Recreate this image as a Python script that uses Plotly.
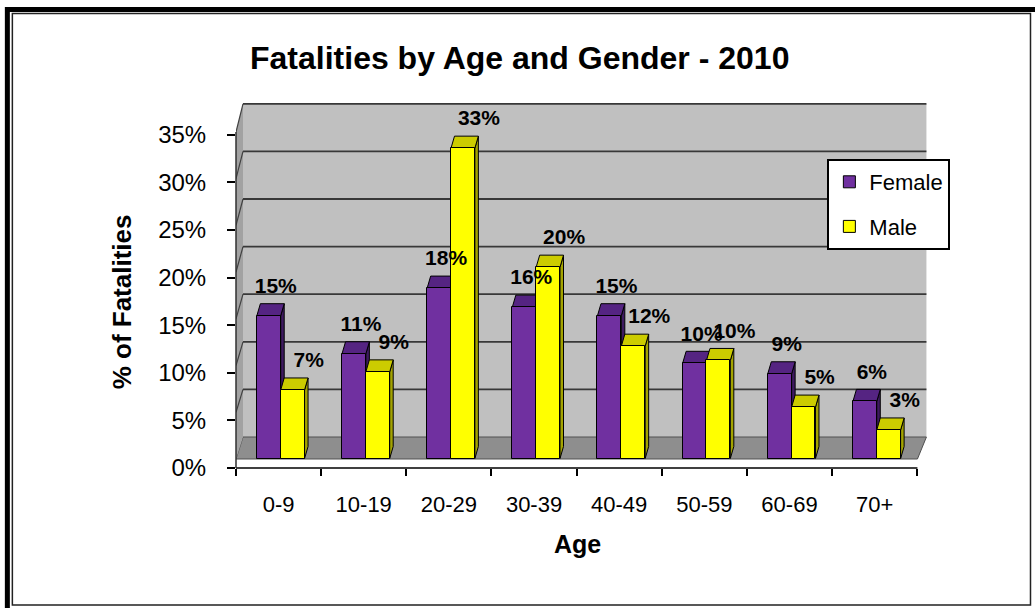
import plotly.graph_objects as go

# ---------------- data ----------------
categories = ["0-9", "10-19", "20-29", "30-39", "40-49", "50-59", "60-69", "70+"]
female = [15.0, 11.0, 17.9, 15.9, 15.0, 10.0, 8.9, 6.0]
male = [7.2, 9.1, 32.6, 20.1, 11.8, 10.3, 5.4, 3.0]
y_ticks = [0, 5, 10, 15, 20, 25, 30, 35]
y_tick_labels = [f"{v}%" for v in y_ticks]

# ---------------- geometry ----------------
W, H = 1035, 608
L, B, T = 236, 468, 100
PXU = 85.1            # px per category
PPU = 9.52            # px per percent
XR = [-0.5, 7.65]
YR = [0, (B - T) / PPU]
PW = (XR[1] - XR[0]) * PXU
PH = B - T
RM = W - L - PW
FONT = "Liberation Sans, Arial, sans-serif"


def xd(px):
    return XR[0] + (px - L) / PXU


def yd(py):
    return (B - py) / PPU


def xp(px):
    return (px - L) / PW


def yp(py):
    return (B - py) / PH


def path(pts):
    return "M " + " L ".join(f"{x},{y}" for x, y in pts) + " Z"


shapes = []
# 3D chart box: back wall, floor, side wall
BY = yd(437)                  # back-wall zero level
BXL, BXR = xd(243), xd(926)   # back wall left / right
FXL, FXR = xd(236), xd(917)   # front left / right
FY0, FYT = yd(459), yd(132)   # front floor edge, front top of side wall
top = y_ticks[-1]

shapes.append(dict(type="path", xref="x", yref="y", layer="below",
                   path=path([(BXL, BY), (BXR, BY), (BXR, BY + top), (BXL, BY + top)]),
                   fillcolor="#C0C0C0", line=dict(width=0)))
shapes.append(dict(type="path", xref="x", yref="y", layer="below",
                   path=path([(BXL, BY), (BXR, BY), (FXR, FY0), (FXL, FY0)]),
                   fillcolor="#8E8E8E", line=dict(color="#505050", width=1)))
shapes.append(dict(type="path", xref="x", yref="y", layer="below",
                   path=path([(FXL, FY0), (FXL, FYT), (BXL, BY + top), (BXL, BY)]),
                   fillcolor="#A2A2A2", line=dict(width=0)))
for t in y_ticks[1:]:
    shapes.append(dict(type="line", xref="x", yref="y", layer="below",
                       x0=BXL, x1=BXR, y0=BY + t, y1=BY + t,
                       line=dict(color="#383838", width=1.8)))
    fy = FY0 + t * (FYT - FY0) / top
    shapes.append(dict(type="line", xref="x", yref="y", layer="below",
                       x0=FXL, x1=BXL, y0=fy, y1=BY + t,
                       line=dict(color="#404040", width=1.2)))

# bars: 3D side/top faces (below the front faces drawn by Bar traces)
BASE = yd(458.5)
BW = 0.28
OFF_F, OFF_M = -0.255, 0.025
DX, DY = 3.5 / PXU, 12 / PPU
series = [
    ("Female", female, OFF_F, "#7030A0", "#552482", "#3E1A60"),
    ("Male", male, OFF_M, "#FFFF00", "#CCCC00", "#A3A300"),
]
for name, vals, off, front, topc, side in series:
    for i, v in enumerate(vals):
        xl = i + off
        xr = xl + BW
        yt = BASE + v
        shapes.append(dict(type="path", xref="x", yref="y", layer="below",
                           path=path([(xr, BASE), (xr, yt), (xr + DX, yt + DY), (xr + DX, BASE + DY)]),
                           fillcolor=side, line=dict(color="black", width=1)))
        shapes.append(dict(type="path", xref="x", yref="y", layer="below",
                           path=path([(xl, yt), (xr, yt), (xr + DX, yt + DY), (xl + DX, yt + DY)]),
                           fillcolor=topc, line=dict(color="black", width=1)))

# axis lines (paper coords, not clipped)
shapes.append(dict(type="line", xref="paper", yref="paper",
                   x0=0, x1=xp(917), y0=0, y1=0, line=dict(color="black", width=1.5)))
shapes.append(dict(type="line", xref="paper", yref="paper",
                   x0=0, x1=0, y0=0, y1=yp(132), line=dict(color="#303030", width=1.5)))

# outer double frame
shapes.append(dict(type="rect", xref="paper", yref="paper",
                   x0=xp(7.5), x1=xp(1060), y0=yp(9.5), y1=yp(640),
                   line=dict(color="black", width=5)))
shapes.append(dict(type="rect", xref="paper", yref="paper",
                   x0=xp(12.5), x1=xp(1030), y0=yp(13.5), y1=yp(605),
                   line=dict(color="#222222", width=1.5)))

fig = go.Figure()
for name, vals, off, front, topc, side in series:
    fig.add_trace(go.Bar(
        name=name, x=list(range(len(categories))), y=vals, base=BASE,
        offset=off, width=BW, legendgroup=name,
        marker=dict(color=front, line=dict(color="black", width=1)),
    ))

# data labels
LBL_DY = 28 / PPU
for (name, vals, off, *_), dxp in zip(series, [7, 16]):
    fig.add_trace(go.Scatter(
        x=[i + off + BW / 2 + dxp / PXU for i in range(len(vals))],
        y=[BASE + v + LBL_DY for v in vals],
        text=[f"{round(v)}%" for v in vals],
        mode="text", textposition="middle center", cliponaxis=False,
        textfont=dict(family=FONT, size=21, color="black", weight="bold"),
        showlegend=False, hoverinfo="skip",
    ))

annotations = [
    dict(text="Fatalities by Age and Gender - 2010", xref="paper", yref="paper",
         x=xp(519), y=yp(58), showarrow=False, xanchor="center", yanchor="middle",
         font=dict(family=FONT, size=32, color="black", weight="bold")),
    dict(text="% of Fatalities", xref="paper", yref="y", x=xp(122), y=17.5,
         textangle=-90, showarrow=False, xanchor="center", yanchor="middle",
         font=dict(family=FONT, size=26, color="black", weight="bold")),
    dict(text="Age", xref="paper", yref="paper", x=xp(577), y=yp(544),
         showarrow=False, xanchor="center", yanchor="middle",
         font=dict(family=FONT, size=25, color="black", weight="bold")),
]

fig.update_layout(
    width=W, height=H, autosize=False,
    margin=dict(l=L, r=RM, t=T, b=H - B, pad=0),
    paper_bgcolor="white", plot_bgcolor="white",
    barmode="overlay", bargap=0,
    shapes=shapes, annotations=annotations,
    font=dict(family=FONT, color="black"),
    legend=dict(x=xp(827), y=yp(159), xanchor="left", yanchor="top",
                bgcolor="white", bordercolor="black", borderwidth=2,
                font=dict(family=FONT, size=22, color="black"),
                traceorder="grouped", tracegroupgap=13),
    xaxis=dict(range=XR, tickvals=list(range(len(categories))), ticktext=categories,
               ticks="", showgrid=False, zeroline=False, showline=False,
               tickfont=dict(family=FONT, size=22, color="black"),
               ticklabelstandoff=21,
               minor=dict(tickvals=[i - 0.5 for i in range(len(categories) + 1)],
                          ticks="outside", ticklen=7, tickwidth=1.5, tickcolor="black",
                          showgrid=False)),
    yaxis=dict(range=YR, tickvals=y_ticks, ticktext=y_tick_labels,
               ticks="outside", ticklen=8, tickwidth=2, tickcolor="black",
               showgrid=False, zeroline=False, showline=False,
               tickfont=dict(family=FONT, size=24, color="black"),
               ticklabelstandoff=16),
)

fig.write_html("out.html")
